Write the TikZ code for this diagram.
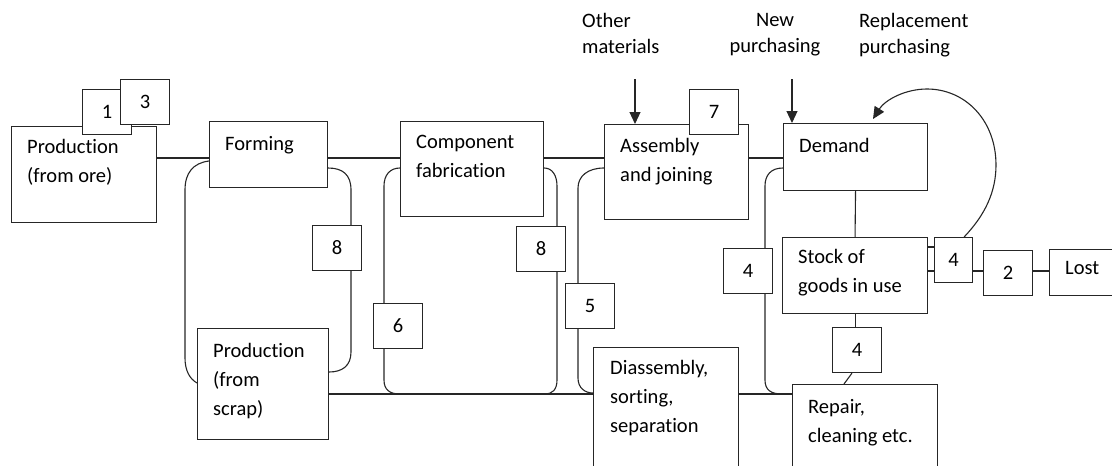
\documentclass[tikz,border=0pt]{standalone}
\usepackage{fontspec}
\setmainfont{Carlito}[Ligatures=NoCommon]
\usetikzlibrary{arrows.meta,calc}

\begin{document}
\begin{tikzpicture}[x=1pt, y=-1pt,
	box/.style={draw=black!85, fill=white, line width=1.1pt, anchor=north west, inner sep=0pt},
	numbox/.style={box, minimum width=49pt, minimum height=45pt, font=\fontsize{20.5}{25}\selectfont},
	boxtext/.style={anchor=north west, align=left, inner sep=0pt, font=\fontsize{20.5}{29}\selectfont},
	toptext/.style={anchor=north west, align=left, inner sep=0pt, font=\fontsize{20.5}{26}\selectfont},
	link/.style={draw=black!85, line width=1.1pt},
	feed/.style={link, -{Triangle[length=12pt, width=11pt]}}]
	\useasboundingbox (0,0) rectangle (1112,466);
	\coordinate (main) at (0,158);
	\coordinate (low) at (0,394);
	\coordinate (side) at (0,271);

	% boxes
	\node[box, minimum width=145pt, minimum height=96pt] (ore) at (11,126) {};
	\node[numbox] (n1) at (82,89) {1};
	\node[numbox] (n3) at (120,79) {3};
	\node[box, minimum width=118pt, minimum height=66pt] (forming) at (209,121) {};
	\node[box, minimum width=143pt, minimum height=95pt] (comp) at (400,121) {};
	\node[box, minimum width=144pt, minimum height=95pt] (assembly) at (604,124) {};
	\node[numbox] (n7) at (689,89) {7};
	\node[box, minimum width=144pt, minimum height=67pt] (demand) at (783,123) {};
	\node[box, minimum width=145pt, minimum height=76pt] (stock) at (782,237) {};
	\node[box, minimum width=90pt, minimum height=46pt] (lost) at (1049,249) {};
	\node[box, minimum width=131pt, minimum height=111pt] (scrap) at (197,328) {};
	\node[box, minimum width=145pt, minimum height=140pt] (disasm) at (593,347) {};
	\node[box, minimum width=145pt, minimum height=100pt] (repair) at (792,384) {};

	\node[numbox] (n8a) at (312,225) {8};
	\node[numbox] (n8b) at (516,226) {8};
	\node[numbox] (n6) at (373,303) {6};
	\node[numbox] (n5) at (565,283) {5};
	\node[numbox] (n4a) at (723,248) {4};
	\node[numbox, minimum width=38pt] (n4b) at (934,237) {4};
	\node[numbox] (n2) at (983,250) {2};
	\node[numbox] (n4c) at (832,327) {4};

	% texts
	\node[boxtext] (oretext) at ($(ore.north west)+(16,13)$) {Production\\(from ore)};
	\node[boxtext] (formingtext) at ($(forming.north west)+(16,15)$) {Forming};
	\node[boxtext] (comptext) at ($(comp.north west)+(16,14)$) {Component\\fabrication};
	\node[boxtext] (assemblytext) at ($(assembly.north west)+(16,14)$) {Assembly\\and joining};
	\node[boxtext] (demandtext) at ($(demand.north west)+(16,15)$) {Demand};
	\node[boxtext] (stocktext) at ($(stock.north west)+(16,12)$) {Stock of\\goods in use};
	\node[boxtext] (losttext) at ($(lost.north west)+(16,12)$) {Lost};
	\node[boxtext] (scraptext) at ($(scrap.north west)+(16,15)$) {Production\\(from\\scrap)};
	\node[boxtext] (disasmtext) at ($(disasm.north west)+(17,13)$) {Diassembly,\\sorting,\\separation};
	\node[boxtext] (repairtext) at ($(repair.north west)+(16,15)$) {Repair,\\cleaning etc.};
	\node[toptext] (othertext) at (582,13) {Other\\materials};
	\node[toptext, anchor=north, align=center] (newtext) at (775,13) {New\\purchasing};
	\node[toptext] (repltext) at (859,13) {Replacement\\purchasing};

	% main line
	\draw[link] (ore.east |- main) -- (forming.west |- main);
	\draw[link] (forming.east |- main) -- (comp.west |- main);
	\draw[link] (comp.east |- main) -- (assembly.west |- main);
	\draw[link] (assembly.east |- main) -- (demand.west |- main);
	\draw[link] (scrap.east |- low) -- (disasm.west |- low);
	\draw[link] (disasm.east |- low) -- (repair.west |- low);

	% loops back
	\draw[link] ($(forming.north west)+(0,40)$) .. controls (193,163) and (185,173) .. (185,190)
		-- (185,358) .. controls (185,371) and (190,379) .. ($(scrap.north west)+(0,55)$);
	\draw[link] ($(forming.north east)+(0,47)$) .. controls (343,168) and (351,175) .. (351,190)
		-- ($(n8a.north west)+(39,0)$);
	\draw[link] ($(n8a.south west)+(39,0)$) -- (351,352) .. controls (351,366) and (342,372) .. ($(scrap.north east)+(0,44)$);
	\draw[link] ($(comp.north west)+(0,47)$) .. controls (390,168) and (384,175) .. (384,186)
		-- ($(n6.north west)+(11,0)$);
	\draw[link] ($(n6.south west)+(11,0)$) -- (384,380) .. controls (384,390) and (390,394) .. (400,394);
	\draw[link] ($(comp.north east)+(0,47)$) .. controls (552,168) and (557,175) .. (557,186)
		-- ($(n8b.north west)+(41,0)$);
	\draw[link] ($(n8b.south west)+(41,0)$) -- (557,380) .. controls (557,390) and (552,394) .. (545,394);
	\draw[link] ($(assembly.north west)+(0,44)$) .. controls (588,168) and (578,176) .. (578,188)
		-- ($(n5.north west)+(13,0)$);
	\draw[link] ($(n5.south west)+(13,0)$) -- (578,378) .. controls (578,388) and (585,393) .. ($(disasm.north west)+(0,46)$);
	\draw[link] ($(demand.north west)+(0,45)$) .. controls (771,168) and (765,175) .. (765,186)
		-- ($(n4a.north west)+(42,0)$);
	\draw[link] ($(n4a.south west)+(42,0)$) -- (765,380) .. controls (765,390) and (771,394) .. (782,394);

	% use and loss
	\draw[link] (demand.south) -- (stock.north);
	\draw[link] (stock.south) -- (stock.south |- n4c.north);
	\draw[link] ($(n4c.south west)+(20,0)$) -- ($(repair.north west)+(52,0)$);
	\draw[link] ($(stock.north east)+(0,10)$) -- ($(n4b.north west)+(0,10)$);
	\draw[link] (stock.east |- side) -- (n4b.west |- side);
	\draw[link] (n4b.east |- side) -- (n2.west |- side);
	\draw[link] (n2.east |- side) -- (lost.west |- side);

	% inputs
	\coordinate (othertop) at (635,79);
	\coordinate (newtop) at (792,79);
	\draw[feed] (othertop) -- (othertop |- assembly.north);
	\draw[feed] (newtop) -- (newtop |- demand.north);
	\draw[feed] ($(n4b.north east)+(-9,0)$) .. controls (985,215) and (996,192) .. (996,165)
		.. controls (996,120) and (965,89) .. (927,89)
		.. controls (905,89) and (885,100) .. ($(demand.north west)+(90,-4)$);
\end{tikzpicture}
\end{document}
